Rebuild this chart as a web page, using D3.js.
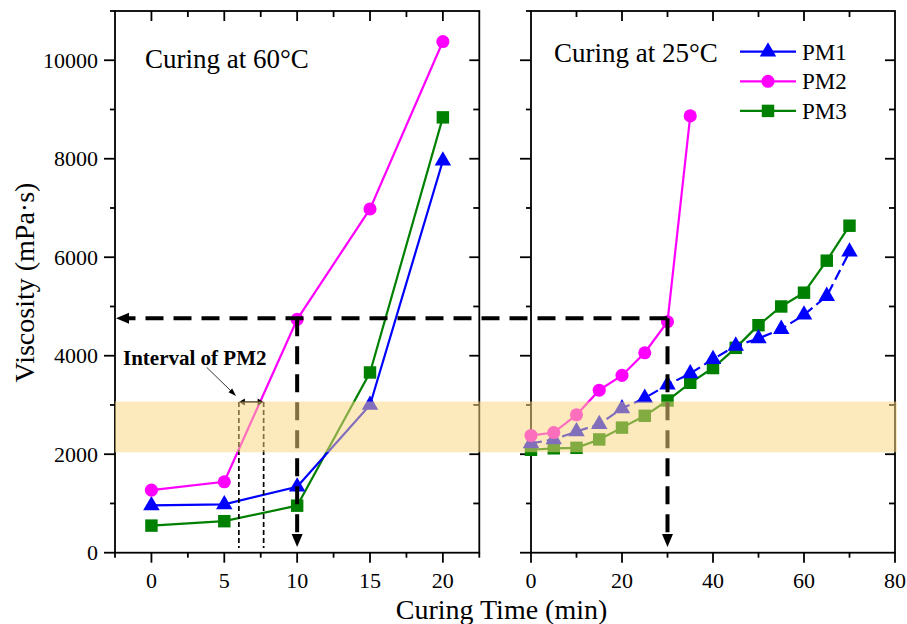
<!DOCTYPE html>
<html>
<head>
<meta charset="utf-8">
<script src="https://cdn.jsdelivr.net/npm/d3@7"></script>
<style>
  html, body { margin: 0; padding: 0; background: #fff; }
  svg { display: block; }
  text { font-family: "Liberation Serif", "Times New Roman", serif; fill: #000; }
</style>
</head>
<body>
<svg id="chart" width="907" height="624"></svg>
<script>
// ---------- data ----------
const timeHot = [0, 5, 10, 15, 20];
const pm1Hot = [960, 980, 1340, 3000, 7960];
const pm2Hot = [1270, 1440, 4740, 6980, 10380];
const pm3Hot = [550, 640, 955, 3660, 8840];

const timeRoom = [0, 5, 10, 15, 20, 25, 30, 35, 40, 45, 50, 55, 60, 65, 70];
const pm1Room = [2220, 2300, 2460, 2610, 2930, 3140, 3410, 3640, 3930, 4200, 4350, 4540, 4830, 5210, 6110];
const pm2Room = [2380, 2440, 2800, 3300, 3600, 4060, 4690, 8870];
const pm3Room = [2090, 2120, 2130, 2300, 2540, 2780, 3090, 3450, 3750, 4160, 4620, 5000, 5280, 5930, 6640];

const yTicks = [0, 2000, 4000, 6000, 8000, 10000];
const xTicksHot = [0, 5, 10, 15, 20];
const xTicksRoom = [0, 20, 40, 60, 80];
const seriesNames = ["PM1", "PM2", "PM3"];

const bandRange = [2040, 3070];
const gelViscosity = 4760;
const gelTimeHot = 10, gelTimeRoom = 30;
const intervalRange = [6.0, 7.7];

// ---------- layout ----------
const svg = d3.select("#chart");
const plotTop = 11, plotBottom = 552.7;
const y = d3.scaleLinear().domain([0, 11000]).range([plotBottom, plotTop]);
const xL = d3.scaleLinear().domain([-2.5, 22.5]).range([115, 479.3]);
const xR = d3.scaleLinear().domain([0, 80]).range([531, 895]);

const colors = { PM1: "#0000FF", PM2: "#FF00FF", PM3: "#008000" };
const symbols = { PM1: d3.symbolTriangle, PM2: d3.symbolCircle, PM3: d3.symbolSquare };
const symSize = { PM1: 118, PM2: 135, PM3: 155 };

// ---------- axes ----------
function drawFrame(x, xTicks, minorStep, showYLabels) {
  const [x0, x1] = x.range();
  const [d0, d1] = x.domain();
  const g = svg.append("g");
  const sw = 1.8;
  g.append("rect").attr("x", x0).attr("y", plotTop).attr("width", x1 - x0).attr("height", plotBottom - plotTop)
    .attr("fill", "none").attr("stroke", "#000").attr("stroke-width", sw);
  const minorX = d3.range(Math.ceil(d0 / minorStep) * minorStep, d1 + 1e-9, minorStep);
  minorX.forEach(v => {
    const isMajor = xTicks.some(t => Math.abs(t - v) < 1e-9);
    const px = x(v);
    g.append("line").attr("x1", px).attr("x2", px).attr("y1", plotBottom).attr("y2", plotBottom + (isMajor ? 10 : 5))
      .attr("stroke", "#000").attr("stroke-width", sw);
    if (px > x0 + 1 && px < x1 - 1) {
      g.append("line").attr("x1", px).attr("x2", px).attr("y1", plotTop).attr("y2", plotTop + (isMajor ? 10 : 6))
        .attr("stroke", "#000").attr("stroke-width", sw);
    }
  });
  xTicks.forEach(v => {
    g.append("text").attr("x", x(v)).attr("y", 588).attr("text-anchor", "middle")
      .attr("font-size", 22).text(v);
  });
  d3.range(0, 11001, 1000).forEach(v => {
    const isMajor = yTicks.includes(v);
    const py = y(v);
    g.append("line").attr("x1", x0).attr("x2", x0 - (isMajor ? 11 : 5)).attr("y1", py).attr("y2", py)
      .attr("stroke", "#000").attr("stroke-width", sw);
    if (v > 0 && v < 11000) {
      g.append("line").attr("x1", x1).attr("x2", x1 - (isMajor ? 10 : 6)).attr("y1", py).attr("y2", py)
        .attr("stroke", "#000").attr("stroke-width", sw);
    }
  });
  if (showYLabels) {
    yTicks.forEach(v => {
      g.append("text").attr("x", x0 - 17).attr("y", y(v) + 7.5).attr("text-anchor", "end")
        .attr("font-size", 22).text(v);
    });
  }
}
drawFrame(xL, xTicksHot, 2.5, true);
drawFrame(xR, xTicksRoom, 10, false);

// ---------- series ----------
function drawSeries(x, xs, ys, name, dash) {
  const pts = ys.map((v, i) => [x(xs[i]), y(v)]);
  svg.append("path").attr("d", d3.line()(pts)).attr("fill", "none")
    .attr("stroke", colors[name]).attr("stroke-width", 2.2)
    .attr("stroke-dasharray", dash || null);
  svg.append("g").selectAll("path").data(pts).join("path")
    .attr("transform", d => `translate(${d[0]},${d[1]})`)
    .attr("d", d3.symbol(symbols[name], symSize[name])())
    .attr("fill", colors[name]);
}
drawSeries(xL, timeHot, pm3Hot, "PM3");
drawSeries(xL, timeHot, pm1Hot, "PM1");
drawSeries(xL, timeHot, pm2Hot, "PM2");
drawSeries(xR, timeRoom, pm3Room, "PM3");
drawSeries(xR, timeRoom, pm1Room, "PM1", "11,5");
drawSeries(xR, timeRoom.slice(0, pm2Room.length), pm2Room, "PM2");

// ---------- annotations ----------
function arrowHead(tx, ty, dir, len, half) {
  let p;
  if (dir === "left") p = [[tx, ty], [tx + len, ty - half], [tx + len, ty + half]];
  else if (dir === "right") p = [[tx, ty], [tx - len, ty - half], [tx - len, ty + half]];
  else p = [[tx, ty], [tx - half, ty - len], [tx + half, ty - len]];
  svg.append("path").attr("d", "M" + p.join("L") + "Z").attr("fill", "#000");
}
const gy = y(gelViscosity);
const ann = svg.append("g").attr("stroke", "#000").attr("stroke-width", 4).attr("fill", "none")
  .attr("stroke-dasharray", "18,10");
ann.append("line").attr("x1", xR(gelTimeRoom)).attr("x2", 128).attr("y1", gy).attr("y2", gy);
ann.append("line").attr("x1", xL(gelTimeHot)).attr("x2", xL(gelTimeHot)).attr("y1", gy).attr("y2", 535);
ann.append("line").attr("x1", xR(gelTimeRoom)).attr("x2", xR(gelTimeRoom)).attr("y1", gy).attr("y2", 535);
arrowHead(116, gy, "left", 13, 5.5);
arrowHead(xL(gelTimeHot), 547, "down", 13, 5.5);
arrowHead(xR(gelTimeRoom), 547, "down", 13, 5.5);

const iy = y(bandRange[1]) + 0.5;
const ig = svg.append("g").attr("stroke", "#000").attr("stroke-width", 1.7).attr("stroke-dasharray", "5,3");
intervalRange.forEach(v => {
  ig.append("line").attr("x1", xL(v)).attr("x2", xL(v)).attr("y1", iy).attr("y2", 548);
});
svg.append("line").attr("x1", xL(intervalRange[0]) + 4).attr("x2", xL(intervalRange[1]) - 4)
  .attr("y1", iy).attr("y2", iy).attr("stroke", "#000").attr("stroke-width", 1.5);
arrowHead(xL(intervalRange[0]), iy, "left", 6, 3.5);
arrowHead(xL(intervalRange[1]), iy, "right", 6, 3.5);
svg.append("line").attr("x1", 206.7).attr("y1", 367.3).attr("x2", 231).attr("y2", 391)
  .attr("stroke", "#000").attr("stroke-width", 0.8);
svg.append("path").attr("d", "M236,396 L228.5,392.2 L232.2,388.5 Z").attr("fill", "#000");
svg.append("text").attr("x", 123).attr("y", 365).attr("font-size", 21).attr("font-weight", "bold")
  .text("Interval of PM2");

// ---------- band (on top, translucent) ----------
svg.append("rect").attr("x", 115).attr("width", 897 - 115)
  .attr("y", y(bandRange[1])).attr("height", y(bandRange[0]) - y(bandRange[1]))
  .attr("fill", "#FAD47E").attr("opacity", 0.52);

// ---------- labels ----------
svg.append("text").attr("x", 145).attr("y", 68).attr("font-size", 27).text("Curing at 60°C");
svg.append("text").attr("x", 554).attr("y", 62).attr("font-size", 27).text("Curing at 25°C");

svg.append("text").attr("x", 501.5).attr("y", 619).attr("text-anchor", "middle").attr("font-size", 28)
  .text("Curing Time (min)");
svg.append("text").attr("transform", "translate(34,282.5) rotate(-90)").attr("text-anchor", "middle")
  .attr("font-size", 28).text("Viscosity (mPa·s)");

// ---------- legend ----------
seriesNames.forEach((name, i) => {
  const ly = 51.7 + i * 29.6;
  svg.append("line").attr("x1", 740).attr("x2", 796).attr("y1", ly).attr("y2", ly)
    .attr("stroke", colors[name]).attr("stroke-width", 2.2);
  svg.append("path").attr("transform", `translate(768,${ly})`)
    .attr("d", d3.symbol(symbols[name], symSize[name])()).attr("fill", colors[name]);
  svg.append("text").attr("x", 802).attr("y", ly + 8).attr("font-size", 23).text(name);
});
</script>
</body>
</html>
